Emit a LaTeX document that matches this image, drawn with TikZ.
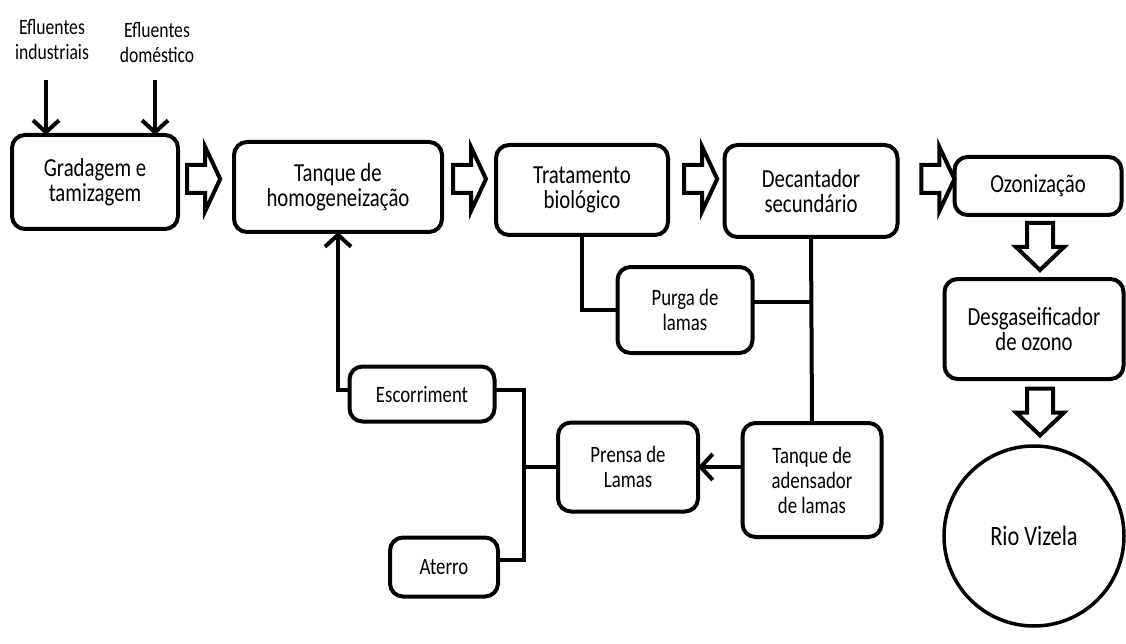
\documentclass[tikz,border=0pt]{standalone}
\usepackage{fontspec}
\setmainfont{Carlito}[FakeStretch=0.8]
\usetikzlibrary{arrows.meta}
\tikzset{
  pics/blockright/.style={code={
    \draw[hollow] (-16,-14) -- (2,-14) -- (2,-32) -- (17,0) -- (2,32) -- (2,14) -- (-16,14) -- cycle;}},
  pics/blockdown/.style={code={
    \draw[hollow] (-13,-24) -- (13,-24) -- (13,0) -- (24,0) -- (0,23) -- (-24,0) -- (-13,0) -- cycle;}}
}
\begin{document}
\begin{tikzpicture}[x=1pt,y=-1pt,
  every node/.style={inner sep=0pt, outer sep=0pt, align=center},
  stage/.style={draw, line width=4pt, rounded corners=13pt, font=\fontsize{26}{25}\selectfont},
  minor/.style={stage, font=\fontsize{23.5}{25}\selectfont},
  inlabel/.style={font=\fontsize{22}{25}\selectfont},
  link/.style={line width=4pt, line join=miter},
  feed/.style={link, -{Straight Barb[length=12pt, width=26pt]}},
  hollow/.style={line width=4pt, line join=miter, fill=white}
]
\useasboundingbox (0,0) rectangle (1126,644);

% inflow labels
\node[inlabel] (ind) at (52,40) {Efluentes\\industriais};
\node[inlabel] (dom) at (157,43) {Efluentes\\doméstico};

% main treatment line
\node[stage, minimum width=166, minimum height=94] (G)  at (95,182)  {Gradagem e\\tamizagem};
\node[stage, minimum width=208, minimum height=90] (T)  at (338,187) {Tanque de\\homogeneização};
\node[stage, minimum width=172, minimum height=90] (Tr) at (582,190) {Tratamento\\biológico};
\node[stage, minimum width=173, minimum height=92] (D)  at (811,191) {Decantador\\secundário};
\node[stage, minimum width=167, minimum height=58] (O)  at (1038,186) {Ozonização};
\node[stage, minimum width=179, minimum height=100] (Dg) at (1034,329) {Desgaseificador\\de ozono};
\node[draw, circle, line width=3.5pt, minimum size=180, font=\fontsize{28}{30}\selectfont] (R) at (1034,536) {Rio Vizela};

% sludge line
\node[minor, minimum width=135, minimum height=86]  (P)  at (685,310) {Purga de\\lamas};
\node[minor, minimum width=139, minimum height=114] (A)  at (812,480) {Tanque de\\adensador\\de lamas};
\node[minor, minimum width=140, minimum height=89]  (Pr) at (628,467) {Prensa de\\Lamas};
\node[minor, minimum width=145, minimum height=55]  (E)  at (422,394) {Escorriment};
\node[minor, minimum width=108, minimum height=59]  (At) at (444,567) {Aterro};

% inflows
\coordinate (in1) at (46,80);
\coordinate (in2) at (155,80);
\draw[feed] (in1) -- (in1 |- G.north);
\draw[feed] (in2) -- (in2 |- G.north);

% block arrows of the main flow
\coordinate (flow) at (0,179);
\path (G.east |- flow)  -- (T.west |- flow)  pic[pos=0.45] {blockright};
\path (T.east |- flow)  -- (Tr.west |- flow) pic[pos=0.5]  {blockright};
\path (Tr.east |- flow) -- (D.west |- flow)  pic[pos=0.57] {blockright};
\path (D.east |- flow)  -- (O.west |- flow)  pic[pos=0.7]  {blockright};
\path (O.south -| 1040,0) -- (Dg.north -| 1040,0) pic[pos=0.5] {blockdown};
\path (Dg.south -| 1040,0) -- (R.north -| 1040,0) pic[pos=0.5] {blockdown};

% sludge connectors
\draw[link] (Tr.south) |- (P.west);
\draw[link] (D.south) -- (A.north);
\draw[link] ([yshift=8pt]P.east) -- ([yshift=8pt]P.east -| D.south);
\draw[feed] (A.west |- Pr.east) -- (Pr.east);
\coordinate (bus) at (524,476);
\coordinate (eR) at ([yshift=4pt]E.east);
\coordinate (aR) at ([yshift=7pt]At.east);
\draw[link] (eR) -| (bus |- aR) -- (aR);
\draw[link] (Pr.west) -- (Pr.west -| bus);
\draw[feed] ([yshift=4pt]E.west) -| (T.south);
\end{tikzpicture}
\end{document}
